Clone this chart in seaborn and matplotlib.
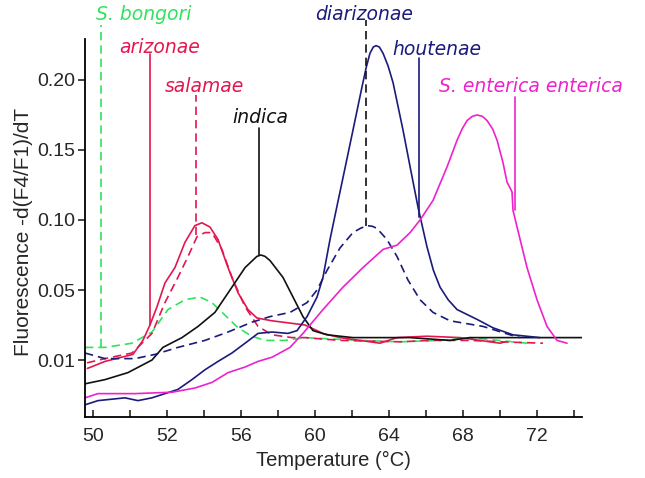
import matplotlib
matplotlib.use("Agg")
import matplotlib.pyplot as plt
import seaborn as sns
from matplotlib.ticker import FixedLocator, FixedFormatter

# melt curves: temperature (C) and -d(F4/F1)/dT
arizonae_t = [47.7, 48.65, 50.16, 50.7, 51.08, 51.46, 51.89, 52.43, 52.97, 53.51, 53.89, 54.32,
              54.76, 55.3, 55.84, 56.38, 56.86, 57.68, 59.46, 60.43, 61.35, 63.51, 64.43, 66.05,
              67.84, 70.0, 70.27]
arizonae_v = [-0.006, -0.001, 0.004, 0.014, 0.025, 0.038, 0.055, 0.066, 0.084, 0.096, 0.098, 0.095,
              0.086, 0.066, 0.048, 0.036, 0.030, 0.028, 0.025, 0.019, 0.016, 0.012, 0.016, 0.017,
              0.016, 0.012, 0.013]

salamae_t = [47.68, 48.65, 50.11, 51.19, 51.89, 52.59, 53.14, 53.62, 54.05, 54.43, 54.97, 55.51,
             56.22, 56.92, 57.68, 58.76, 59.46, 61.35, 64.6, 66.2, 68.4, 70.0, 72.32]
salamae_v = [-0.002, 0.001, 0.005, 0.019, 0.041, 0.059, 0.074, 0.088, 0.091, 0.091, 0.079, 0.059,
             0.038, 0.024, 0.018, 0.016, 0.016, 0.014, 0.013, 0.014, 0.014, 0.013, 0.012]

bongori_t = [47.57, 48.65, 50.11, 51.19, 52.05, 52.97, 53.78, 54.43, 55.14, 55.84, 56.59, 57.3,
             58.38, 59.46, 62.43, 64.59, 66.76, 68.38, 71.46]
bongori_v = [0.009, 0.009, 0.012, 0.020, 0.036, 0.043, 0.045, 0.041, 0.032, 0.023, 0.017, 0.014,
             0.014, 0.016, 0.014, 0.013, 0.014, 0.016, 0.012]

indica_t = [47.57, 48.65, 49.89, 51.19, 51.78, 52.81, 53.68, 54.59, 55.51, 56.22, 56.86, 57.08,
            57.3, 57.57, 58.27, 58.81, 59.35, 59.89, 60.65, 62.05, 63.51, 65.14, 67.3, 68.38,
            71.08, 74.43]
indica_v = [-0.017, -0.014, -0.009, 0.000, 0.009, 0.016, 0.024, 0.034, 0.052, 0.066, 0.074, 0.075,
            0.074, 0.071, 0.059, 0.045, 0.031, 0.021, 0.018, 0.016, 0.016, 0.016, 0.014, 0.016,
            0.016, 0.016]

diarizonae_t = [47.57, 48.65, 50.27, 51.35, 52.59, 54.05, 55.3, 56.59, 57.57, 58.65, 59.57, 60.11,
                60.65, 61.35, 62.05, 62.45, 62.81, 63.1, 63.35, 63.89, 64.43, 65.03, 65.68, 66.38,
                67.3, 69.08, 70.54, 71.08]
diarizonae_v = [0.005, 0.001, 0.001, 0.004, 0.009, 0.014, 0.020, 0.027, 0.031, 0.034, 0.041, 0.050,
                0.064, 0.080, 0.091, 0.094, 0.096, 0.0955, 0.094, 0.086, 0.074, 0.057, 0.043, 0.034,
                0.028, 0.024, 0.018, 0.016]

houtenae_t = [47.57, 48.27, 49.73, 50.43, 51.19, 51.89, 52.59, 53.35, 54.05, 54.76, 55.51, 56.22,
              56.92, 57.68, 58.54, 59.03, 59.57, 60.11, 60.43, 60.81, 61.19, 61.51, 62.05, 62.54,
              62.77, 62.97, 63.15, 63.3, 63.48, 63.68, 63.95, 64.22, 64.76, 65.14, 65.57, 66.05,
              66.4, 66.76, 67.2, 67.68, 68.76, 69.62, 70.7, 72.16]
houtenae_v = [-0.032, -0.029, -0.027, -0.029, -0.027, -0.024, -0.021, -0.014, -0.007, -0.001, 0.005,
              0.012, 0.019, 0.020, 0.019, 0.021, 0.031, 0.045, 0.059, 0.086, 0.110, 0.130, 0.164,
              0.195, 0.209, 0.219, 0.2235, 0.2245, 0.2235, 0.219, 0.210, 0.198, 0.164, 0.138, 0.109,
              0.081, 0.064, 0.052, 0.043, 0.036, 0.029, 0.023, 0.018, 0.016]

enterica_t = [47.57, 48.27, 50.27, 52.27, 53.51, 54.43, 55.3, 56.22, 56.92, 57.68, 58.65, 59.35,
              60.43, 61.51, 62.59, 63.68, 64.43, 65.14, 65.68, 66.38, 67.14, 67.68, 67.95, 68.22,
              68.5, 68.76, 69.05, 69.3, 69.6, 69.84, 70.16, 70.38, 70.54, 70.65, 70.7, 70.92, 71.46,
              72.0, 72.54, 73.08, 73.62]
enterica_v = [-0.027, -0.024, -0.024, -0.023, -0.020, -0.016, -0.009, -0.005, -0.001, 0.002, 0.009,
              0.019, 0.036, 0.052, 0.066, 0.079, 0.082, 0.091, 0.100, 0.114, 0.138, 0.157, 0.165,
              0.171, 0.174, 0.175, 0.174, 0.171, 0.165, 0.157, 0.141, 0.127, 0.123, 0.120, 0.107,
              0.095, 0.066, 0.043, 0.024, 0.014, 0.012]

# Tm marker lines: name, Tm, top of line, bottom of line
marker_names = ["S. bongori", "arizonae", "salamae", "indica", "diarizonae", "houtenae",
                "S. enterica enterica"]
marker_tm = [48.43, 51.08, 53.57, 56.97, 62.76, 65.62, 70.81]
marker_top = [0.239, 0.2186, 0.189, 0.166, 0.243, 0.216, 0.188]
marker_bottom = [0.009, 0.025, 0.089, 0.075, 0.096, 0.102, 0.107]
label_x = [50.76, 51.62, 54.05, 57.03, 62.65, 66.59, 71.68]
label_y = [0.2464, 0.2229, 0.195, 0.173, 0.2464, 0.222, 0.195]

x_ticks = [48, 52, 56, 60, 64, 68, 72]
x_tick_labels = ["50", "52", "56", "60", "64", "68", "72"]
x_minor = [50, 54, 58, 62, 66, 70, 74]
y_ticks = [0.0, 0.05, 0.10, 0.15, 0.20]
y_tick_labels = ["0.01", "0.05", "0.10", "0.15", "0.20"]

red = "#e3174f"
green = "#30e35c"
navy = "#1b1b7c"
magenta = "#ee22cc"
black = "#111111"

sns.set_style("white")
plt.rcParams["font.family"] = ["Liberation Sans", "DejaVu Sans"]

fig = plt.figure(figsize=(6.45, 4.78), dpi=100)
ax = fig.add_axes([0.1318, 0.1276, 0.7705, 0.8724])

lw = 1.2
dash = (5, 3)
curves = [
    (bongori_t, bongori_v, green, True),
    (arizonae_t, arizonae_v, red, False),
    (salamae_t, salamae_v, red, True),
    (indica_t, indica_v, black, False),
    (diarizonae_t, diarizonae_v, navy, True),
    (houtenae_t, houtenae_v, navy, False),
    (enterica_t, enterica_v, magenta, False),
]
for t, v, c, dashed in curves:
    sns.lineplot(x=t, y=v, ax=ax, color=c, lw=lw, estimator=None, sort=False)
    if dashed:
        ax.lines[-1].set_dashes(dash)

line_colors = [green, red, red, black, black, navy, magenta]
text_colors = [green, red, red, black, navy, navy, magenta]
line_dashed = [True, False, True, False, True, False, False]
for i, name in enumerate(marker_names):
    ln, = ax.plot([marker_tm[i], marker_tm[i]], [marker_bottom[i], marker_top[i]],
                  color=line_colors[i], lw=lw, clip_on=False)
    if line_dashed[i]:
        ln.set_dashes(dash)
    ax.text(label_x[i], label_y[i], name, color=text_colors[i], fontsize=13.5, style="italic",
            family="DejaVu Sans", ha="center", va="center", clip_on=False)

ax.set_xlim(47.57, 74.43)
ax.set_ylim(-0.0407, 0.2571)

ax.xaxis.set_major_locator(FixedLocator(x_ticks))
ax.xaxis.set_major_formatter(FixedFormatter(x_tick_labels))
ax.xaxis.set_minor_locator(FixedLocator(x_minor))
ax.yaxis.set_major_locator(FixedLocator(y_ticks))
ax.yaxis.set_major_formatter(FixedFormatter(y_tick_labels))

ax.tick_params(axis="x", which="both", direction="in", length=5, width=1.2, labelsize=14,
               bottom=True, pad=8)
ax.tick_params(axis="y", direction="out", length=5, width=1.2, labelsize=14, left=True, pad=2)

sns.despine(ax=ax)
ax.spines["left"].set_bounds(-0.0407, 0.229)
ax.spines["left"].set_linewidth(1.3)
ax.spines["bottom"].set_linewidth(1.3)
ax.spines["left"].set_color("black")
ax.spines["bottom"].set_color("black")

ax.set_xlabel("Temperature (°C)", fontsize=14.5, labelpad=4)
ax.set_ylabel("Fluorescence -d(F4/F1)/dT", fontsize=15)
# centre the y label on the drawn part of the axis, as in the original
ax.yaxis.set_label_coords(-0.105, 0.445)

fig.savefig("out.png", dpi=100)
